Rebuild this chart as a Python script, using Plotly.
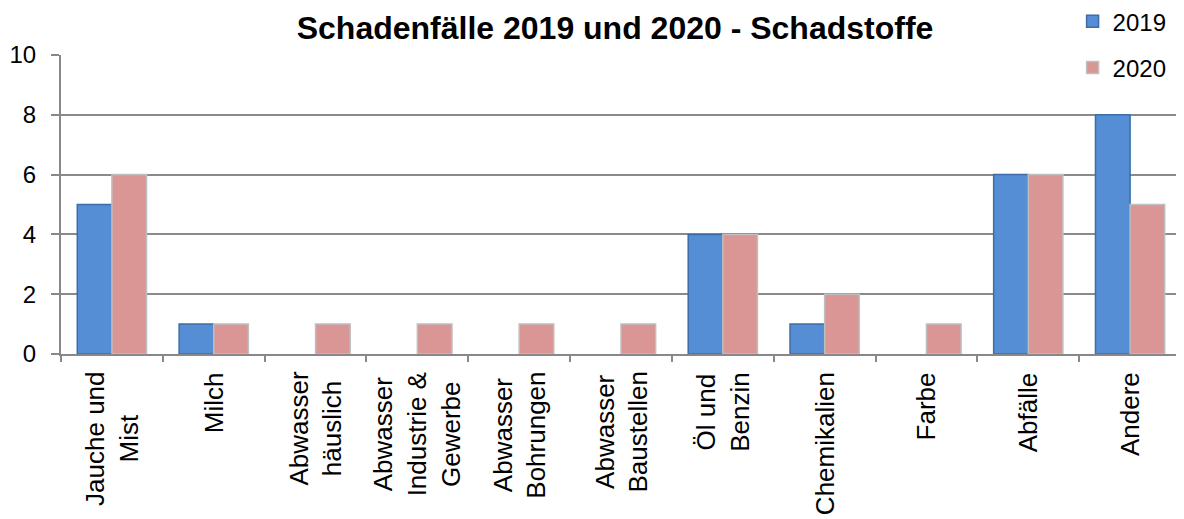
import plotly.graph_objects as go

categories = ["Jauche und<br>Mist", "Milch", "Abwasser<br>häuslich", "Abwasser<br>Industrie &<br>Gewerbe",
              "Abwasser<br>Bohrungen", "Abwasser<br>Baustellen", "Öl und<br>Benzin", "Chemikalien",
              "Farbe", "Abfälle", "Andere"]
values_2019 = [5, 1, 0, 0, 0, 0, 4, 1, 0, 6, 8]
values_2020 = [6, 1, 1, 1, 1, 1, 4, 2, 1, 6, 5]
y_ticks = [0, 2, 4, 6, 8, 10]

FONT = "Liberation Sans, Arial, sans-serif"


def edge_widths(vals, w=1.5):
    return [w if v > 0 else 0 for v in vals]


fig = go.Figure()
fig.add_trace(go.Bar(x=categories, y=values_2019, name="2019",
                     marker=dict(color="#558ED5", line=dict(color="#3C6DA8", width=edge_widths(values_2019))),
                     legendgroup="a"))
fig.add_trace(go.Bar(x=categories, y=values_2020, name="2020",
                     marker=dict(color="#D99694", line=dict(color="#BFBFBF", width=edge_widths(values_2020))),
                     legendgroup="b"))

# category labels (rotated, lines centred)
for c in categories:
    fig.add_annotation(x=c, y=0, xref="x", yref="paper", text=c, textangle=-90,
                       showarrow=False, xanchor="center", yanchor="top", yshift=-16,
                       align="center", font=dict(size=26, family=FONT, color="black"))

fig.update_layout(
    width=1184, height=519,
    margin=dict(l=53, r=11, t=47, b=173, autoexpand=False),
    paper_bgcolor="white", plot_bgcolor="white",
    font=dict(family=FONT, size=24, color="black"),
    title=dict(text="<b>Schadenfälle 2019 und 2020 - Schadstoffe</b>",
               x=0.5127, xanchor="center", xref="container",
               y=0.961, yanchor="middle", yref="container",
               font=dict(size=32, family=FONT, color="black")),
    barmode="group", bargap=0.32, bargroupgap=0,
    legend=dict(x=0.9032, xanchor="left", y=1.187, yanchor="top",
                bgcolor="white", font=dict(size=24, family=FONT),
                traceorder="grouped", tracegroupgap=12,
                itemwidth=30),
    showlegend=True,
)
fig.update_xaxes(
    type="category", tickson="boundaries",
    ticks="outside", ticklen=6, tickwidth=2, tickcolor="#888888",
    showline=True, linecolor="#888888", linewidth=2,
    showgrid=False, showticklabels=False, automargin=False,
)
fig.update_yaxes(
    range=[0, 10], tickvals=y_ticks,
    ticks="outside", ticklen=8, tickwidth=2, tickcolor="#888888",
    showline=True, linecolor="#888888", linewidth=2,
    showgrid=True, gridcolor="#8A8A8A", gridwidth=2,
    zeroline=False, tickfont=dict(size=24, family=FONT),
    ticklabelstandoff=10, automargin=False,
)

fig.write_html("out.html")
